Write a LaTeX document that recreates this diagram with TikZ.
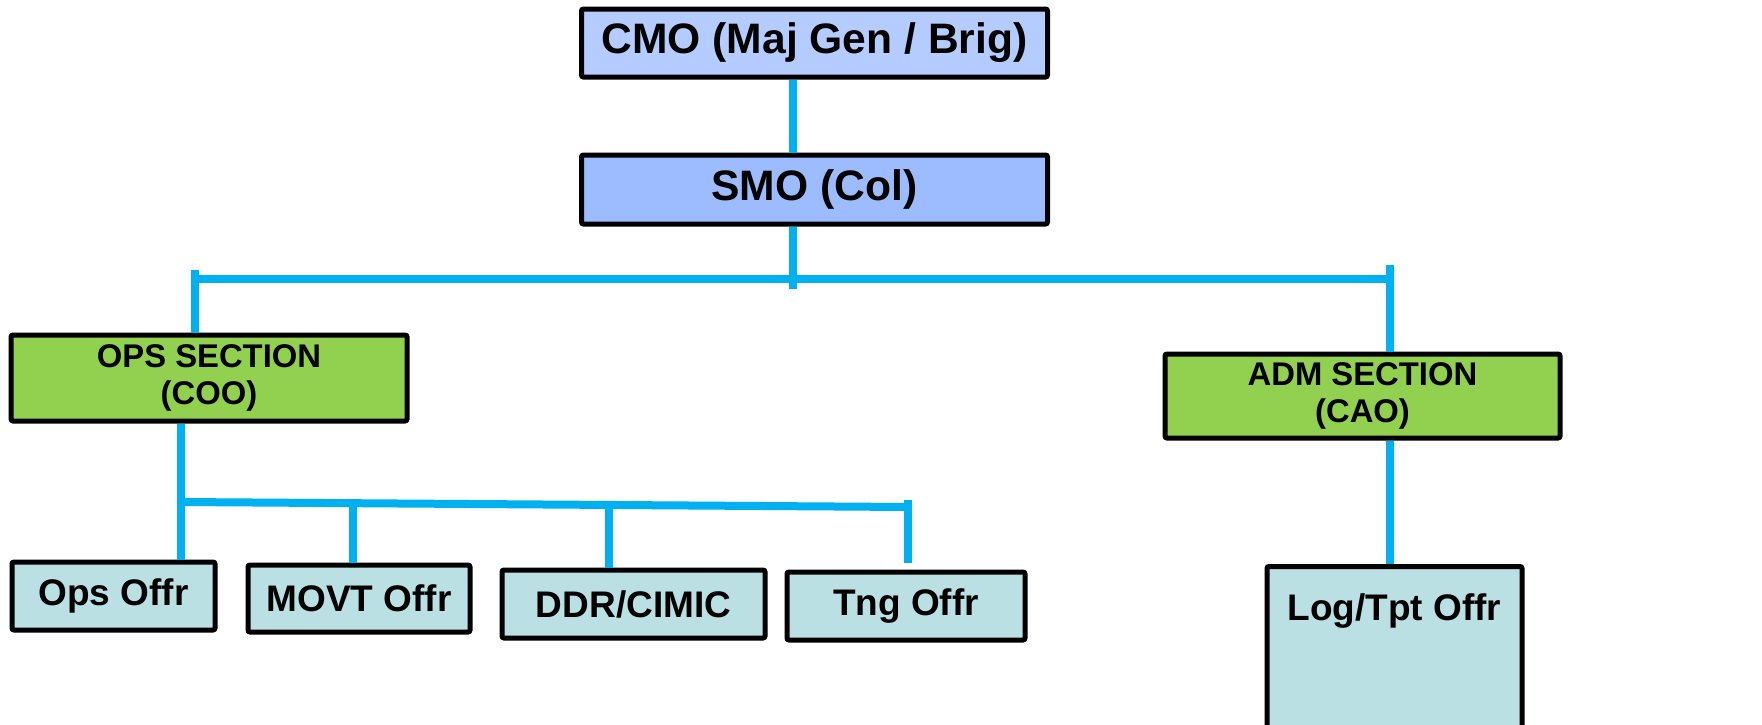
\documentclass[tikz,border=0pt]{standalone}
\usepackage{fontspec}
\setmainfont{Liberation Sans}
\definecolor{linkblue}{HTML}{00B0F0}
\definecolor{topfill}{HTML}{B4CCFF}
\definecolor{smofill}{HTML}{9CBCFF}
\definecolor{secfill}{HTML}{92D050}
\definecolor{lowfill}{HTML}{BBE0E3}
\begin{document}
\begin{tikzpicture}[x=0.5pt,y=-0.5pt,
  box/.style={draw=black,line width=2.5pt,rounded corners=1pt,inner sep=0pt,align=center,font=\bfseries},
  topbox/.style={box,fill=topfill,font=\bfseries\fontsize{21.3}{25}\selectfont},
  smobox/.style={box,fill=smofill,font=\bfseries\fontsize{21.3}{25}\selectfont},
  secbox/.style={box,fill=secfill,font=\bfseries\fontsize{16.4}{18.5}\selectfont},
  lowbox/.style={box,fill=lowfill,font=\bfseries\fontsize{18.5}{22}\selectfont},
  link/.style={draw=linkblue,line width=4pt}]
\useasboundingbox (0,0) rectangle (1762,724);
\clip (0,0) rectangle (1762,724);
\fill[white] (0,0) rectangle (1762,724);
% nodes
\node[topbox,minimum width=233pt,minimum height=34pt] (cmo) at (814.5,43) {CMO (Maj Gen / Brig)};
\node[smobox,minimum width=233pt,minimum height=34.5pt] (smo) at (814.5,189.5) {SMO (Col)};
\node[secbox,minimum width=198pt,minimum height=43pt] (ops) at (209,378) {OPS SECTION\\(COO)};
\node[secbox,minimum width=197.5pt,minimum height=42pt] (adm) at (1362.5,396) {ADM SECTION\\(CAO)};
\node[lowbox,minimum width=101.5pt,minimum height=34pt] (opsoffr) at (113.5,596) {Ops Offr};
\node[lowbox,minimum width=111pt,minimum height=33.5pt] (movt) at (359,598.5) {MOVT Offr};
\node[lowbox,minimum width=131.5pt,minimum height=34pt] (ddr) at (633.5,604) {DDR/CIMIC};
\node[lowbox,minimum width=119pt,minimum height=34pt] (tng) at (906,606) {Tng Offr};
\node[lowbox,minimum width=127.5pt,anchor=north,text height=27pt,text depth=62pt] (log) at (1394.5,564) {Log/Tpt Offr};
% helper coordinates
\coordinate (tx) at (793,0);
\coordinate (barL) at (195,279);
\coordinate (barR) at (1390,279);
\coordinate (stemEnd) at (793,289);
\coordinate (tickL) at (195,270);
\coordinate (tickR) at (1390,265);
\coordinate (ox) at (181,0);
\coordinate (bar2L) at (181,502);
\coordinate (bar2R) at (908,507);
\coordinate (tngTop) at (908,500);
\coordinate (tngEnd) at (908,563);
\coordinate (movtTop) at (353,505);
\coordinate (ddrTop) at (609,507);
\coordinate (ax) at (1390,0);
% connectors
\draw[link] (tx |- cmo.south) -- (tx |- smo.north);
\draw[link] (tx |- smo.south) -- (stemEnd);
\draw[link] (barL) -- (barR);
\draw[link] (tickL) -- (tickL |- ops.north);
\draw[link] (tickR) -- (tickR |- adm.north);
\draw[link] (ox |- ops.south) -- (ox |- opsoffr.north);
\draw[link] (bar2L) -- (bar2R);
\draw[link] (tngTop) -- (tngEnd);
\draw[link] (movtTop) -- (movtTop |- movt.north);
\draw[link] (ddrTop) -- (ddrTop |- ddr.north);
\draw[link] (ax |- adm.south) -- (ax |- log.north);
\end{tikzpicture}
\end{document}
